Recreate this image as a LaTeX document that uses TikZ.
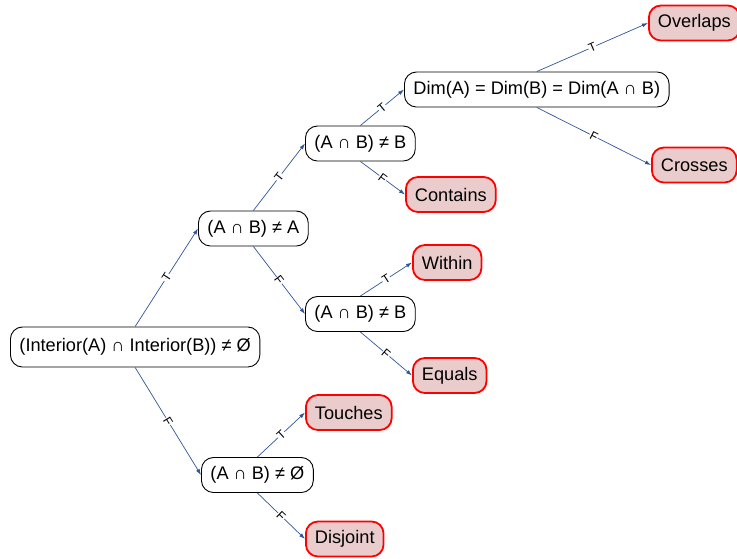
\documentclass[tikz,border=0pt]{standalone}
\usepackage{fontspec}
\setmainfont{Liberation Sans}
\usetikzlibrary{arrows.meta}

\definecolor{leaffill}{RGB}{234,204,204}
\definecolor{arcblue}{RGB}{47,85,151}

\begin{document}
\begin{tikzpicture}[
		x=1pt, y=1pt,
		every node/.style={rectangle, rounded corners=12pt, draw, anchor=west, minimum height=35pt, inner xsep=9pt, font=\fontsize{18.2}{21}\selectfont},
		test/.style={line width=0.9pt},
		result/.style={draw=red, fill=leaffill, line width=1.8pt},
		tf/.style={draw=none, fill=white, text=black, anchor=center, sloped, minimum height=0pt, inner sep=0.5pt, font=\fontsize{12}{14}\selectfont},
		arc/.style={arcblue, line width=0.7pt, -{Latex[length=6pt,width=4pt]}}
	]
  \useasboundingbox (0,0) rectangle (737,-558);
  % tests
  \node (root) [test, minimum height=40pt] at (10, -347) {(Interior(A) ∩ Interior(B)) ≠ Ø};
  \node (a_ne) [test] at (198, -228.5) {(A ∩ B) ≠ A};
  \node (b_ne_up) [test] at (305, -143.5) {(A ∩ B) ≠ B};
  \node (b_ne_low) [test] at (305, -314) {(A ∩ B) ≠ B};
  \node (empty) [test] at (201, -475) {(A ∩ B) ≠ Ø};
  \node (dim) [test] at (404, -89.5) {Dim(A) = Dim(B) = Dim(A ∩ B)};
  % results
  \node (overlaps) [result] at (648, -23) {Overlaps};
  \node (crosses) [result] at (651, -165) {Crosses};
  \node (contains) [result] at (405, -194.5) {Contains};
  \node (within) [result] at (412, -262.5) {Within};
  \node (equals) [result] at (412, -375.5) {Equals};
  \node (touches) [result] at (305, -412.5) {Touches};
  \node (disjoint) [result] at (305, -539) {Disjoint};
  % arcs
  \draw [arc] (root.north) -- node [tf] {T} (a_ne.west);
  \draw [arc] (root.south) -- node [tf] {F} (empty.west);
  \draw [arc] (a_ne.north) -- node [tf] {T} (b_ne_up.west);
  \draw [arc] (a_ne.south) -- node [tf] {F} (b_ne_low.west);
  \draw [arc] (b_ne_up.north) -- node [tf] {T} (dim.west);
  \draw [arc] (b_ne_up.south) -- node [tf] {F} (contains.west);
  \draw [arc] (dim.north) -- node [tf] {T} (overlaps.west);
  \draw [arc] (dim.south) -- node [tf] {F} (crosses.west);
  \draw [arc] (b_ne_low.north) -- node [tf] {T} (within.west);
  \draw [arc] (b_ne_low.south) -- node [tf] {F} (equals.west);
  \draw [arc] (empty.north) -- node [tf] {T} (touches.west);
  \draw [arc] (empty.south) -- node [tf] {F} (disjoint.west);
\end{tikzpicture}
\end{document}
